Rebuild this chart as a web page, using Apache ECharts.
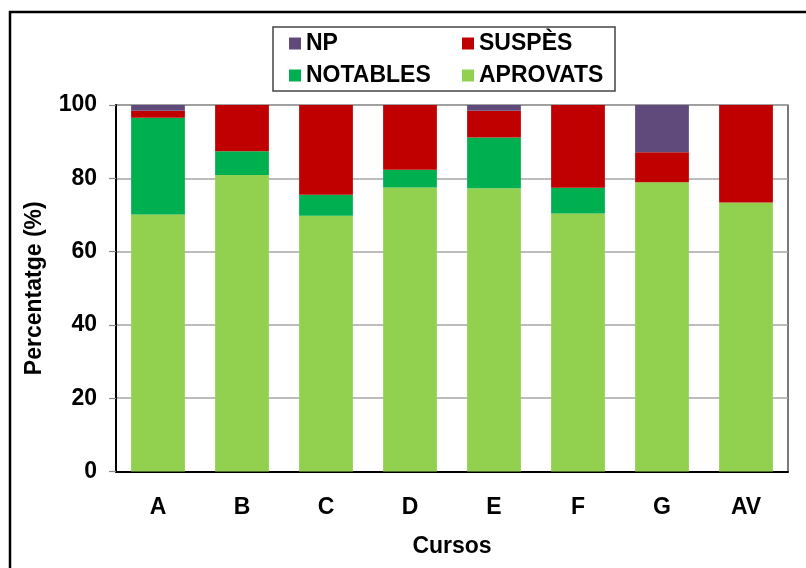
<!DOCTYPE html>
<html>
<head>
<meta charset="utf-8">
<script src="https://cdn.jsdelivr.net/npm/echarts@6/dist/echarts.min.js"></script>
<style>
  html, body { margin: 0; padding: 0; background: #fff; }
  #chart { width: 806px; height: 568px; }
</style>
</head>
<body>
<div id="chart"></div>
<script>
// categories and values (percent)
const cursos = ['A', 'B', 'C', 'D', 'E', 'F', 'G', 'AV']
const aprovats = [70.1, 80.9, 69.8, 77.5, 77.3, 70.4, 78.9, 73.4]
const notables = [26.4, 6.5, 5.7, 4.8, 13.8, 7.0, 0, 0]
const suspes = [1.9, 12.6, 24.5, 17.7, 7.3, 22.6, 8.2, 26.6]
const np = [1.6, 0, 0, 0, 1.6, 0, 12.9, 0]
const yTicks = [0, 20, 40, 60, 80, 100]

const font = "'Liberation Sans', Arial, sans-serif"
const chart = echarts.init(document.getElementById('chart'), null, { renderer: 'canvas' })

const bar = (name, data, color) => ({
  name: name,
  type: 'bar',
  stack: 'total',
  data: data,
  barWidth: '64%',
  itemStyle: { color: color },
  emphasis: { disabled: true }
})

chart.setOption({
  animation: false,
  backgroundColor: '#fff',
  textStyle: { fontFamily: font },
  graphic: [
    // outer frame (right and bottom edges fall outside the canvas)
    { type: 'rect', shape: { x: 10, y: 12, width: 830, height: 600 },
      style: { fill: 'none', stroke: '#000', lineWidth: 2.5 } },
    // legend box
    { type: 'rect', shape: { x: 273, y: 27, width: 342, height: 64 },
      style: { fill: 'none', stroke: '#444', lineWidth: 1.5 } }
  ],
  legend: {
    orient: 'vertical',
    left: 289,
    top: 32,
    height: 60,
    padding: 0,
    itemGap: 9,
    itemWidth: 12,
    itemHeight: 12,
    icon: 'rect',
    data: ['NP', 'NOTABLES', 'SUSPÈS', 'APROVATS'],
    textStyle: {
      fontFamily: font, fontWeight: 'bold', fontSize: 23, color: '#000',
      lineHeight: 23, width: 147
    }
  },
  grid: {
    left: 116, right: 18, top: 105, bottom: 96.5,
    show: true, borderColor: '#222', borderWidth: 1.2
  },
  xAxis: {
    type: 'category',
    data: cursos,
    name: 'Cursos',
    nameLocation: 'middle',
    nameGap: 64,
    nameTextStyle: { fontFamily: font, fontWeight: 'bold', fontSize: 23, color: '#000' },
    axisLine: { lineStyle: { color: '#000', width: 2 } },
    axisTick: { show: false },
    axisLabel: { margin: 25, fontFamily: font, fontWeight: 'bold', fontSize: 23, color: '#000' }
  },
  yAxis: {
    type: 'value',
    min: yTicks[0],
    max: yTicks[yTicks.length - 1],
    interval: 20,
    name: 'Percentatge (%)',
    nameLocation: 'middle',
    nameRotate: 90,
    nameGap: 70,
    nameTextStyle: { fontFamily: font, fontWeight: 'bold', fontSize: 23, color: '#000' },
    axisLine: { show: true, lineStyle: { color: '#000', width: 2 } },
    axisTick: { show: true, length: 7, lineStyle: { color: '#888', width: 1.2 } },
    axisLabel: { margin: 19, fontFamily: font, fontWeight: 'bold', fontSize: 23, color: '#000' },
    splitLine: { lineStyle: { color: '#a6a6a6', width: 1.5 } }
  },
  series: [
    bar('APROVATS', aprovats, '#92d050'),
    bar('NOTABLES', notables, '#00b050'),
    bar('SUSPÈS', suspes, '#c00000'),
    bar('NP', np, '#604a7b')
  ]
})
</script>
</body>
</html>
